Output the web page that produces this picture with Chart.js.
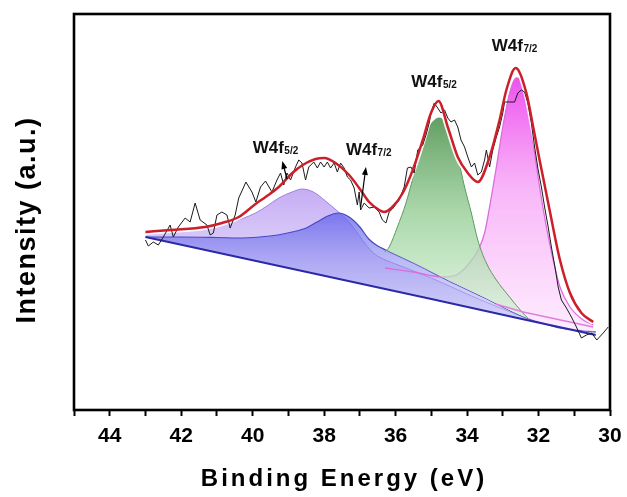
<!DOCTYPE html>
<html>
<head>
<meta charset="utf-8">
<script src="https://cdn.jsdelivr.net/npm/chart.js@4.4.0/dist/chart.umd.min.js"></script>
<style>
  html, body { margin: 0; padding: 0; background: #fff; }
  #c { display: block; }
</style>
</head>
<body>
<canvas id="c" width="627" height="497"></canvas>
<script>
// ---------------- DATA (binding energy in eV, intensity in a.u.) ----------------
const xTickValues = [44, 42, 40, 38, 36, 34, 32, 30];

const rawData = [
  [43.0,170],[42.92,164],[42.78,168],[42.64,165],[42.5,173],[42.31,185],[42.22,173],[42.08,183],
  [41.89,192],[41.75,188],[41.61,207],[41.47,190],[41.28,185],[41.19,175],[41.1,177],[41.0,195],
  [40.86,198],[40.72,195],[40.63,182],[40.49,195],[40.39,212],[40.25,223],[40.19,228],[40.02,218],
  [39.91,208],[39.78,223],[39.64,229],[39.46,218],[39.32,230],[39.22,237],[39.13,225],[39.04,237],
  [38.94,230],[38.8,243],[38.71,250],[38.62,247],[38.52,230],[38.43,243],[38.29,248],[38.19,242],
  [38.1,248],[38.0,243],[37.91,248],[37.82,242],[37.72,247],[37.63,238],[37.54,247],[37.44,242],
  [37.35,233],[37.26,230],[37.16,222],[37.07,205],[37.02,218],[36.98,200],[36.88,207],[36.74,202],
  [36.6,203],[36.46,198],[36.37,190],[36.27,187],[36.18,198],[36.09,201],[35.9,210],[35.76,223],
  [35.67,242],[35.57,243],[35.48,237],[35.38,260],[35.24,265],[35.15,275],[35.06,287],[35.01,297],
  [34.92,307],[34.82,302],[34.73,297],[34.63,300],[34.54,292],[34.45,288],[34.35,290],[34.26,283],
  [34.17,270],[34.07,263],[33.98,253],[33.88,243],[33.79,247],[33.7,235],[33.6,238],[33.51,250],
  [33.46,260],[33.37,243],[33.28,260],[33.18,273],[33.09,283],[33.0,297],[32.95,308],[32.81,308],
  [32.67,308],[32.58,317],[32.48,320],[32.39,318],[32.3,307],[32.2,287],[32.11,263],[32.01,240],
  [31.92,223],[31.83,203],[31.73,183],[31.64,163],[31.54,143],[31.45,123],[31.36,110],[31.22,102],
  [31.08,93],[30.94,83],[30.8,72],[30.66,75],[30.51,77],[30.37,70],[30.19,77],[30.05,83]
];

const envelopeFit = [
  [43.0,178],[42.3,180],[41.33,183],[40.86,187],[40.39,193],[39.92,206],[39.64,213],[39.27,223],
  [38.89,237],[38.6,245],[38.24,251],[38.0,252],[37.68,247],[37.3,235],[37.02,222],[36.74,208],
  [36.46,200],[36.32,198],[36.09,203],[35.8,217],[35.52,240],[35.24,270],[35.01,297],[34.8,309],
  [34.54,283],[34.26,253],[33.98,237],[33.7,228],[33.37,253],[33.09,290],[32.9,320],[32.64,342],
  [32.34,317],[32.15,283],[31.97,250],[31.69,200],[31.4,150],[31.12,117],[30.8,97],[30.47,88]
];

const backgroundLine = [[43.0,173],[39.0,142],[35.0,111],[32.4,90.5],[30.4,75]];

const w5Peak52 = [  // purple component
  [43.0,177],[42.27,180],[41.33,183],[40.58,188],[39.92,197],[39.6,204],[39.27,212],[38.9,218],
  [38.61,221],[38.3,218],[37.96,209],[37.6,198],[37.3,188],[36.93,170],[36.65,158],[36.46,153],
  [36.0,146],[35.0,132],[34.0,116],[33.0,101],[32.34,92],[31.4,83],[30.4,78]
];

const w5Peak72 = [  // blue component
  [43.0,173],[42.0,173],[41.0,172.5],[40.4,172],[39.8,173],[39.3,175],[38.9,178],[38.5,182],
  [38.2,188],[37.9,194],[37.6,197],[37.3,193],[37.0,183],[36.75,171],[36.5,164],[36.27,160],
  [35.5,147],[34.5,129],[33.5,112],[32.34,92],[31.8,86],[31.4,82],[30.4,78]
];

const w6Peak52 = [  // green component
  [36.3,158],[36.18,163],[35.95,183],[35.71,207],[35.48,237],[35.29,263],[35.06,283],[34.78,292],
  [34.49,280],[34.26,253],[34.07,223],[33.88,197],[33.7,170],[33.46,147],[33.18,130],[32.81,113],
  [32.44,97],[32.3,92]
];

const w6Peak72 = [  // pink component
  [36.3,142],[35.5,138],[34.68,133],[34.31,135],[33.93,147],[33.65,163],[33.51,177],[33.37,203],
  [33.18,243],[33.0,283],[32.81,317],[32.62,332],[32.34,317],[32.15,267],[31.97,223],[31.78,183],
  [31.59,150],[31.4,123],[31.12,103],[30.75,90],[30.47,85]
];

const w6Base72 = [[33.2,106],[32.43,98],[30.47,83]];

const peakLabels = [
  { main: 'W4f', sub: '5/2', x: 40.0,  y: 257 },
  { main: 'W4f', sub: '7/2', x: 37.39, y: 255 },
  { main: 'W4f', sub: '5/2', x: 35.56, y: 323 },
  { main: 'W4f', sub: '7/2', x: 33.31, y: 359 }
];

const arrows = [
  { x0: 39.04, y0: 231, x1: 39.17, y1: 249 },
  { x0: 36.98, y0: 203, x1: 36.83, y1: 243 }
];

// ---------------- HELPERS ----------------
const pts = arr => arr.map(([x, y]) => ({ x, y }));
function vgrad(chart, stops, fallback) {
  const { ctx, chartArea } = chart;
  if (!chartArea) return fallback;
  const g = ctx.createLinearGradient(0, chartArea.top, 0, chartArea.bottom);
  stops.forEach(([f, c]) => g.addColorStop(f, c));
  return g;
}

const FONT = '"Liberation Sans", Arial, sans-serif';

const decor = {
  id: 'decor',
  afterDatasetsDraw(chart) {
    const { ctx, scales: { x, y } } = chart;
    ctx.save();
    ctx.strokeStyle = '#000';
    ctx.fillStyle = '#000';
    ctx.lineWidth = 1.2;
    arrows.forEach(ar => {
      const px0 = x.getPixelForValue(ar.x0), py0 = y.getPixelForValue(ar.y0);
      const px1 = x.getPixelForValue(ar.x1), py1 = y.getPixelForValue(ar.y1);
      const ang = Math.atan2(py1 - py0, px1 - px0);
      ctx.beginPath();
      ctx.moveTo(px0, py0);
      ctx.lineTo(px1 - 4 * Math.cos(ang), py1 - 4 * Math.sin(ang));
      ctx.stroke();
      ctx.beginPath();
      ctx.moveTo(px1, py1);
      ctx.lineTo(px1 - 8 * Math.cos(ang) + 3 * Math.sin(ang), py1 - 8 * Math.sin(ang) - 3 * Math.cos(ang));
      ctx.lineTo(px1 - 8 * Math.cos(ang) - 3 * Math.sin(ang), py1 - 8 * Math.sin(ang) + 3 * Math.cos(ang));
      ctx.closePath();
      ctx.fill();
    });
    ctx.fillStyle = '#111';
    ctx.textBaseline = 'alphabetic';
    ctx.textAlign = 'left';
    peakLabels.forEach(l => {
      const px = x.getPixelForValue(l.x), py = y.getPixelForValue(l.y);
      ctx.font = 'bold 17px ' + FONT;
      ctx.fillText(l.main, px, py);
      const w = ctx.measureText(l.main).width;
      ctx.font = 'bold 10px ' + FONT;
      ctx.fillText(l.sub, px + w + 0.5, py + 1);
    });
    ctx.restore();
  },
  afterDraw(chart) {
    const { ctx, chartArea: a } = chart;
    ctx.save();
    ctx.strokeStyle = '#000';
    ctx.lineWidth = 2.6;
    ctx.strokeRect(a.left, a.top, a.right - a.left, a.bottom - a.top);
    ctx.fillStyle = '#000';
    ctx.textAlign = 'center';
    ctx.textBaseline = 'middle';
    ctx.font = 'bold 24px ' + FONT;
    if ('letterSpacing' in ctx) ctx.letterSpacing = '3px';
    ctx.fillText('Binding Energy (eV)', (a.left + a.right) / 2 + 2, 479);
    ctx.translate(28, 220);
    ctx.rotate(-Math.PI / 2);
    ctx.font = 'bold 27px ' + FONT;
    if ('letterSpacing' in ctx) ctx.letterSpacing = '1.5px';
    ctx.fillText('Intensity (a.u.)', 0, 0);
    ctx.restore();
  }
};

const ctx = document.getElementById('c').getContext('2d');
new Chart(ctx, {
  type: 'line',
  data: {
    datasets: [
      { // 0 background
        data: pts(backgroundLine), borderColor: '#2a2aa8', borderWidth: 1.8,
        pointRadius: 0, fill: false, tension: 0, order: 3
      },
      { // 1 purple
        data: pts(w5Peak52), borderColor: 'rgba(150,120,220,0.9)', borderWidth: 1,
        pointRadius: 0, cubicInterpolationMode: 'monotone', order: 8,
        backgroundColor: c => vgrad(c.chart, [[0.42,'rgba(180,145,240,0.8)'],[0.6,'rgba(200,180,245,0.65)'],[0.8,'rgba(225,215,250,0.55)']], 'rgba(190,160,240,0.6)'),
        fill: { target: 0, below: 'rgba(0,0,0,0)' }
      },
      { // 2 blue
        data: pts(w5Peak72), borderColor: '#4848c4', borderWidth: 1.2,
        pointRadius: 0, cubicInterpolationMode: 'monotone', order: 7,
        backgroundColor: c => vgrad(c.chart, [[0.48,'rgba(90,90,235,0.8)'],[0.62,'rgba(140,140,240,0.6)'],[0.8,'rgba(205,205,248,0.55)']], 'rgba(110,110,235,0.6)'),
        fill: { target: 0, below: 'rgba(0,0,0,0)' }
      },
      { // 3 green
        data: pts(w6Peak52), borderColor: '#5e9a5e', borderWidth: 1,
        pointRadius: 0, cubicInterpolationMode: 'monotone', order: 5,
        backgroundColor: c => vgrad(c.chart, [[0.26,'rgba(85,150,85,0.92)'],[0.5,'rgba(150,205,150,0.8)'],[0.78,'rgba(215,245,215,0.7)']], 'rgba(120,180,120,0.7)'),
        fill: { target: 2, below: 'rgba(0,0,0,0)' }
      },
      { // 4 pink
        data: pts(w6Peak72), borderColor: '#dc6cdc', borderWidth: 1.3,
        pointRadius: 0, cubicInterpolationMode: 'monotone', order: 6,
        backgroundColor: c => vgrad(c.chart, [[0.16,'rgba(238,70,238,0.95)'],[0.45,'rgba(246,160,246,0.75)'],[0.8,'rgba(253,228,253,0.7)']], 'rgba(245,150,245,0.7)'),
        fill: { target: 2, below: 'rgba(0,0,0,0)' }
      },
      { // 5 pink base
        data: pts(w6Base72), borderColor: '#e27ce2', borderWidth: 1.5,
        pointRadius: 0, tension: 0, fill: false, order: 4
      },
      { // 6 raw data
        data: pts(rawData), borderColor: '#1a1a1a', borderWidth: 1,
        pointRadius: 0, tension: 0, fill: false, order: 1
      },
      { // 7 envelope halo
        data: pts(envelopeFit), borderColor: 'rgba(255,255,255,0.9)', borderWidth: 6,
        pointRadius: 0, cubicInterpolationMode: 'monotone', fill: false, order: 2
      },
      { // 8 envelope
        data: pts(envelopeFit), borderColor: '#cc1f2a', borderWidth: 2.5,
        pointRadius: 0, cubicInterpolationMode: 'monotone', fill: false, order: 0
      }
    ]
  },
  options: {
    responsive: false,
    animation: false,
    devicePixelRatio: 1,
    layout: { padding: { top: 14, right: 17, left: 0, bottom: 0 } },
    plugins: { legend: { display: false }, tooltip: { enabled: false } },
    scales: {
      x: {
        type: 'linear', reverse: true, min: 30, max: 45,
        border: { display: false },
        grid: { display: true, drawOnChartArea: false, drawTicks: true, tickLength: 6, tickWidth: 2, tickColor: '#000' },
        ticks: {
          stepSize: 1, autoSkip: false, maxRotation: 0, padding: 8, color: '#000',
          font: { family: FONT, size: 21, weight: 'bold' },
          callback: v => xTickValues.includes(v) ? String(v) : ''
        },
        afterFit: s => { s.height = 87; s.paddingLeft = 0; s.paddingRight = 0; }
      },
      y: {
        min: 0, max: 396,
        border: { display: false },
        grid: { display: false },
        ticks: { display: false },
        afterFit: s => { s.width = 74; s.paddingTop = 0; s.paddingBottom = 0; }
      }
    }
  },
  plugins: [decor]
});
</script>
</body>
</html>
